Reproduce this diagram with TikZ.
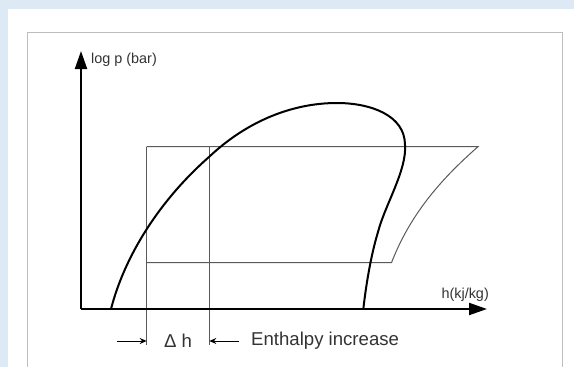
\documentclass[tikz,border=0pt]{standalone}
\usepackage{fontspec}
\setmainfont{Liberation Sans}
\usetikzlibrary{arrows.meta}
\definecolor{bgblue}{HTML}{DDEAF6}
\definecolor{framegray}{HTML}{BDBDBD}
\definecolor{thingray}{HTML}{5A5A5A}
\definecolor{txt}{HTML}{333333}
\tikzset{
  axisline/.style={line width=2pt,-{Triangle[length=18pt,width=12pt]}},
  domeline/.style={line width=2pt,line join=round},
  thinline/.style={line width=1pt,draw=thingray},
  dimarrow/.style={line width=1pt,-{Stealth[length=7pt,width=6pt]}},
  smalllabel/.style={font=\fontsize{14.4}{16}\selectfont,text=txt,inner sep=0pt},
  biglabel/.style={font=\fontsize{18.6}{21}\selectfont,text=txt,inner sep=0pt}
}
\begin{document}
\begin{tikzpicture}[x=1pt,y=-1pt]
\useasboundingbox (0,0) rectangle (574,367);
\fill[bgblue] (0,0) rectangle (574,367);
\fill[white] (7.5,9) rectangle (574,367);
\draw[framegray,line width=0.8pt] (27,32.5) rectangle (562,370);
% coordinates
\coordinate (O) at (81,309);
\coordinate (Ytip) at (81,51);
\coordinate (Xtip) at (487,309);
\coordinate (RTL) at (146.7,146.7);
\coordinate (RTM) at (209.3,146.7);
\coordinate (RTR) at (478,146.7);
\coordinate (RBL) at (146.7,262.7);
\coordinate (RBR) at (391.5,262.7);
\coordinate (V1b) at (146.7,345);
\coordinate (V2b) at (209.3,345);
\coordinate (A1s) at (117,341);
\coordinate (A1e) at (146.7,341);
\coordinate (A2s) at (239,341);
\coordinate (A2e) at (209.3,341);
\coordinate (D0) at (111,309);
\coordinate (D1) at (209.3,156.7);
\coordinate (D2) at (337,103);
\coordinate (D3) at (405,145);
\coordinate (D4) at (378,232);
\coordinate (D5) at (363.3,309.3);
% thin cycle
\draw[thinline] (RTL) -- (RTR) .. controls (440,180) and (410,215) .. (RBR) -- (RBL);
\draw[thinline] (RTL) -- (V1b);
\draw[thinline] (RTM) -- (V2b);
% dome
\draw[domeline] (D0) .. controls (125,255) and (160,200) .. (D1)
  .. controls (245,123) and (290,103) .. (D2)
  .. controls (370,103) and (405,115) .. (D3)
  .. controls (407,170) and (385,205) .. (D4)
  .. controls (371,255) and (366,285) .. (D5);
% axes
\draw[axisline] (O) -- (Ytip);
\draw[axisline] (O) -- (Xtip);
\node[smalllabel,anchor=west] (ylab) at (91,60) {log p (bar)};
\node[smalllabel,anchor=east] (xlab) at (489,295) {h(kj/kg)};
% delta h
\draw[dimarrow] (A1s) -- (A1e);
\draw[dimarrow] (A2s) -- (A2e);
\node[biglabel] (dh) at (178,341) {Δ h};
\node[biglabel,anchor=west] (enth) at (251,341) {Enthalpy increase};
\end{tikzpicture}
\end{document}
